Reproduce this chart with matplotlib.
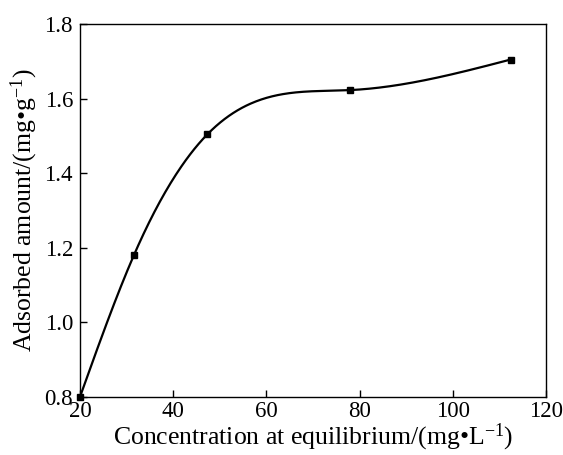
import numpy as np
import matplotlib
matplotlib.use("Agg")
import matplotlib.pyplot as plt

plt.rcParams['font.family'] = ['Liberation Serif', 'DejaVu Serif']
plt.rcParams['mathtext.fontset'] = 'custom'
plt.rcParams['mathtext.rm'] = 'Liberation Serif'
plt.rcParams['mathtext.it'] = 'Liberation Serif:italic'

conc = [20.0, 31.6, 47.3, 77.9, 112.4]
adsorbed = [0.80, 1.181, 1.504, 1.623, 1.705]
xticks = [20, 40, 60, 80, 100, 120]
yticks = [0.8, 1.0, 1.2, 1.4, 1.6, 1.8]


def natural_spline(x, y, xs):
    x = np.asarray(x); y = np.asarray(y)
    n = len(x)
    h = np.diff(x)
    A = np.zeros((n, n)); b = np.zeros(n)
    A[0, 0] = A[-1, -1] = 1
    for i in range(1, n - 1):
        A[i, i - 1] = h[i - 1]
        A[i, i] = 2 * (h[i - 1] + h[i])
        A[i, i + 1] = h[i]
        b[i] = 3 * ((y[i + 1] - y[i]) / h[i] - (y[i] - y[i - 1]) / h[i - 1])
    c = np.linalg.solve(A, b)
    out = np.empty_like(xs)
    for k, xv in enumerate(xs):
        i = min(np.searchsorted(x, xv, side='right') - 1, n - 2)
        i = max(i, 0)
        dx = xv - x[i]
        bi = (y[i + 1] - y[i]) / h[i] - h[i] * (2 * c[i] + c[i + 1]) / 3
        di = (c[i + 1] - c[i]) / (3 * h[i])
        out[k] = y[i] + bi * dx + c[i] * dx ** 2 + di * dx ** 3
    return out


xs = np.linspace(conc[0], conc[-1], 400)
ys = natural_spline(conc, adsorbed, xs)

fig = plt.figure(figsize=(5.63, 4.55), dpi=100)
ax = fig.add_axes([0.142, 0.1275, 0.828, 0.8195])
ax.plot(xs, ys, color='black', lw=1.6)
ax.plot(conc, adsorbed, 's', color='black', markersize=5, clip_on=False)

ax.set_xlim(20, 120)
ax.set_ylim(0.8, 1.8)
ax.set_xticks(xticks)
ax.set_yticks(yticks)
ax.set_yticklabels([f"{v:.1f}" for v in yticks])
ax.tick_params(direction='in', length=5, width=1, labelsize=16.5)
ax.tick_params(axis='x', pad=3)
ax.tick_params(axis='y', pad=5)
for s in ax.spines.values():
    s.set_linewidth(1)

ax.set_xlabel("Concentration at equilibrium/(mg\u2022L$^{-1}$)", fontsize=18.5, labelpad=0)
ax.set_ylabel("Adsorbed amount/(mg\u2022g$^{-1}$)", fontsize=18.5, labelpad=3)

fig.savefig("out.png", dpi=100)
